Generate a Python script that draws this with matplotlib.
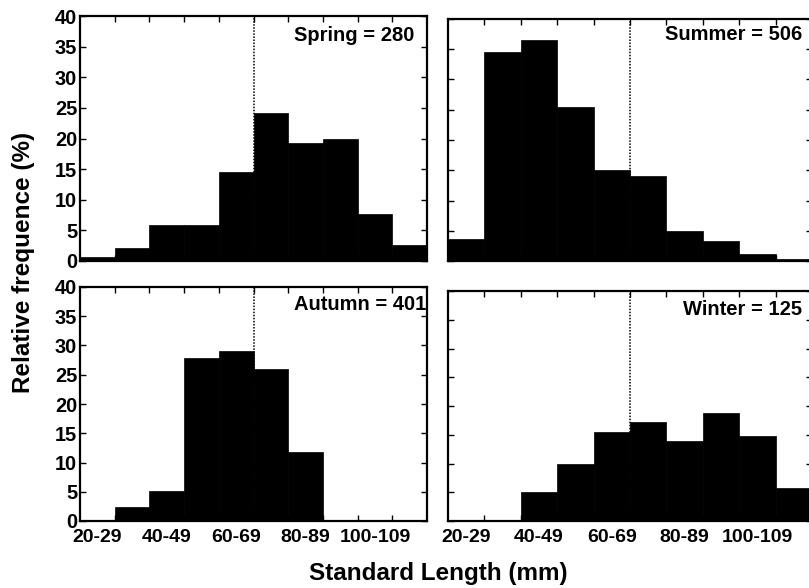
import numpy as np
import matplotlib
matplotlib.use("Agg")
import matplotlib.pyplot as plt

plt.rcParams['font.family'] = ['Liberation Sans', 'DejaVu Sans']
plt.rcParams['font.weight'] = 'bold'

# ---- data ----
bin_starts = [20, 30, 40, 50, 60, 70, 80, 90, 100, 110]   # mm
bin_width = 10
tick_labels = ['20-29', '40-49', '60-69', '80-89', '100-109']
tick_label_bins = [20, 40, 60, 80, 100]
marker_length = 70   # dotted reference line (mm)

spring = [0.6, 2.1, 5.9, 5.9, 14.5, 24.2, 19.3, 19.9, 7.7, 2.6]
summer = [3.7, 34.6, 36.5, 25.4, 15.0, 14.1, 5.0, 3.25, 1.1, 0.4]
autumn = [0.0, 2.4, 5.2, 27.9, 29.0, 26.0, 11.8, 0.0, 0.0, 0.0]
winter = [0.0, 0.0, 5.0, 9.9, 15.5, 17.2, 13.9, 18.8, 14.8, 5.8]

titles = ['Spring = 280', 'Summer = 506', 'Autumn = 401', 'Winter = 125']

W, H = 809, 588
fig = plt.figure(figsize=(W / 100, H / 100), dpi=100)


def px_axes(x0, y0, x1, y1):
    return fig.add_axes([x0 / W, 1 - y1 / H, (x1 - x0) / W, (y1 - y0) / H])


panels = [
    (px_axes(80, 16, 427, 261), spring, titles[0], (0.965, 0.899), True, False),
    (px_axes(448, 19, 812, 261), summer, titles[1], (0.9725, 0.913), False, False),
    (px_axes(80, 287, 427, 521), autumn, titles[2], (0.997, 0.902), True, True),
    (px_axes(448, 291, 812, 521), winter, titles[3], (0.974, 0.896), False, True),
]

for ax, vals, title, (tx, ty), ylab, xlab in panels:
    ax.vlines(marker_length, 0, 40, colors='black', linestyles=(0, (1, 1)),
              linewidth=1.1, zorder=1)
    ax.bar(bin_starts, vals, width=bin_width, align='edge', color='black',
           edgecolor='black', linewidth=0.5, zorder=2)
    ax.set_xlim(bin_starts[0], bin_starts[-1] + bin_width)
    ax.set_ylim(0, 40)
    ax.set_yticks(np.arange(0, 41, 5))
    ax.set_xticks([b + bin_width / 2 for b in tick_label_bins])
    ax.set_xticks(bin_starts[1:], minor=True)
    if xlab:
        ax.set_xticklabels(tick_labels, fontsize=14, fontweight='bold')
    else:
        ax.set_xticklabels([])
    if not ylab:
        ax.set_yticklabels([])
    else:
        for t in ax.get_yticklabels():
            t.set_fontsize(14.4)
            t.set_fontweight('bold')
    ax.tick_params(axis='x', which='major', length=0, pad=6)
    ax.tick_params(axis='x', which='minor', direction='in', top=True,
                   bottom=True, length=4, width=1)
    ax.tick_params(axis='y', which='major', direction='in', left=True,
                   right=True, length=4, width=1, pad=2)
    for s in ax.spines.values():
        s.set_linewidth(1.6)
    ax.text(tx, ty, title, transform=ax.transAxes, ha='right', va='baseline',
            fontsize=14.5, fontweight='bold', zorder=3)

fig.text(24 / W, 1 - 262 / H, 'Relative frequence (%)', rotation=90,
         ha='center', va='center', fontsize=17.5, fontweight='bold')
fig.text(438.5 / W, 1 - 580 / H, 'Standard Length (mm)', ha='center',
         va='baseline', fontsize=17.5, fontweight='bold')

fig.savefig('out.png', dpi=100)
